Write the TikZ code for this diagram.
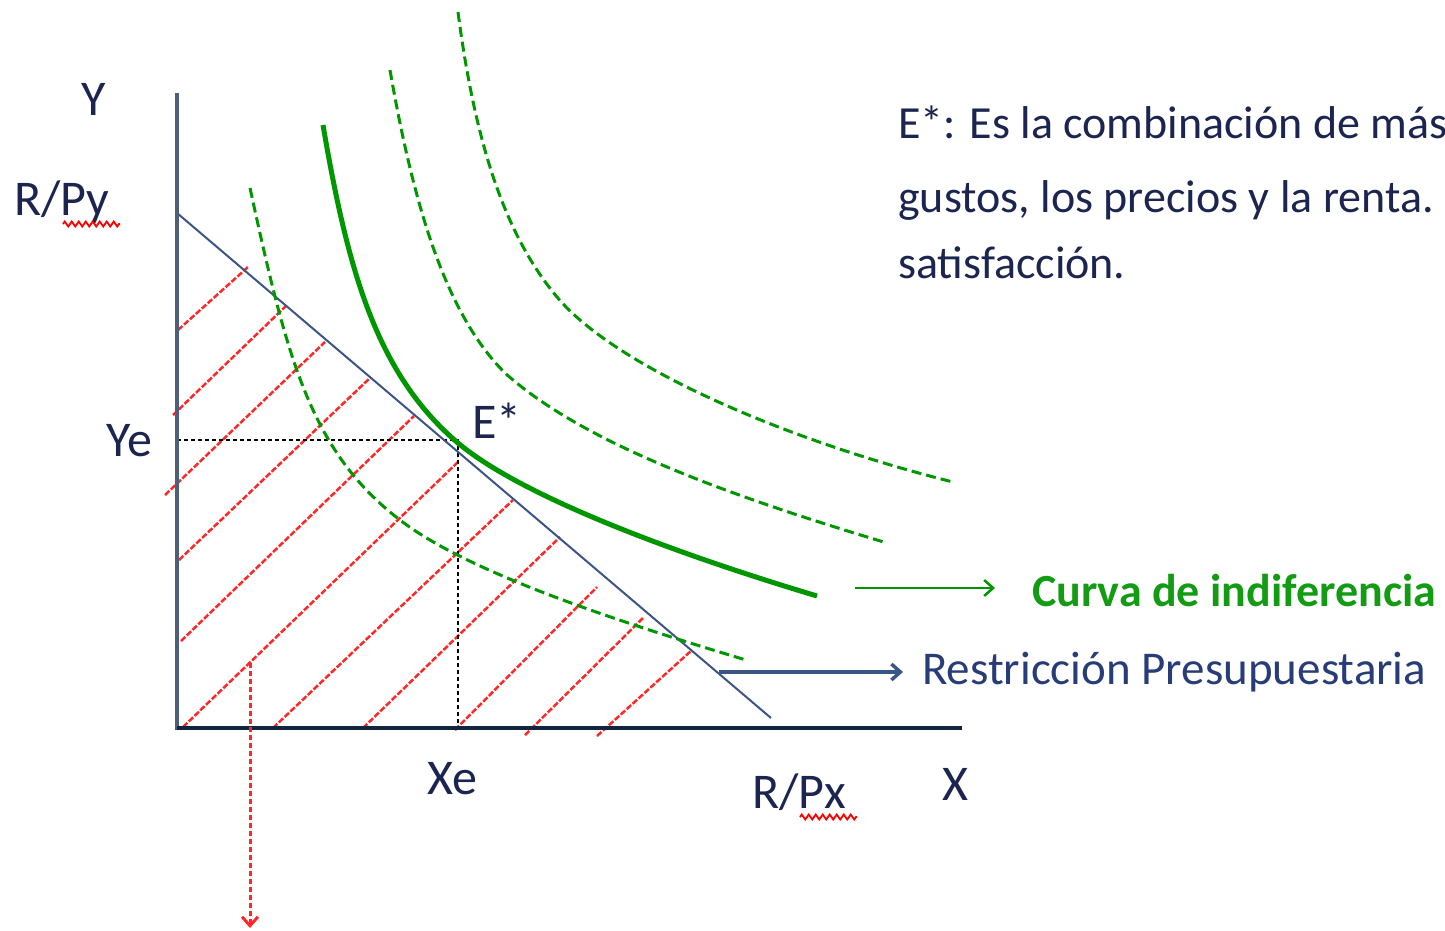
\documentclass[tikz,border=0pt]{standalone}
\usepackage{fontspec}
\setmainfont{Carlito}
\usetikzlibrary{arrows.meta,decorations.pathmorphing}
\definecolor{gr}{RGB}{0,150,0}
\definecolor{txt}{RGB}{28,36,80}
\definecolor{bud}{RGB}{60,85,135}
\definecolor{hat}{RGB}{255,40,40}
\definecolor{axy}{RGB}{80,95,120}
\definecolor{axx}{RGB}{19,36,63}
\definecolor{rp}{RGB}{40,60,120}
\definecolor{cgreen}{RGB}{20,155,20}
\begin{document}
\begin{tikzpicture}[x=1pt,y=-1pt,
 lbl/.style={inner sep=0pt, anchor=base west, text=txt, font=\fontsize{46}{55}\selectfont},
 axl/.style={lbl, font=\fontsize{50}{60}\selectfont},
 hatch/.style={hat, line width=2.5pt, dash pattern=on 6pt off 2pt},
 dcurve/.style={gr, line width=3pt, dash pattern=on 10pt off 5pt},
 scurve/.style={gr, line width=5pt},
 guide/.style={black, line width=2.5pt, dash pattern=on 4pt off 3pt},
 squig/.style={red, line width=1.8pt, decorate, decoration={zigzag, segment length=7pt, amplitude=2.5pt}},
 tip/.style={-{Straight Barb[length=9pt,width=16pt]}},
]
\useasboundingbox (0,0) rectangle (1445,930);

% hatch lines
\draw[hatch] (178,330) -- (248,267);
\draw[hatch] (173,415) -- (287,305);
\draw[hatch] (165,495) -- (325,342);
\draw[hatch] (179,560) -- (371,377);
\draw[hatch] (181,641) -- (414,416);
\draw[hatch] (183,727) -- (459,461);
\draw[hatch] (273,728) -- (513,500);
\draw[hatch] (363,728) -- (560,537);
\draw[hatch] (455,730) -- (597,587);
\draw[hatch] (525,735) -- (643,618);
\draw[hatch] (597,736) -- (692,650);

% guides to E*
\coordinate (E) at (458,440);
\draw[guide] (177,440) -- (E) -- (458,728);

% budget line
\coordinate (b0) at (177,213);
\coordinate (b1) at (771,718);
\draw[bud, line width=2pt] (b0) -- (b1);

% axes
\draw[axy, line width=3.5pt] (177,93) -- (177,730);
\draw[axx, line width=3.5pt] (177,728) -- (962,728);

% indifference curves
\draw[dcurve] (250,188) .. controls (287,358) and (310,451) .. (400,520)
                        .. controls (470,574) and (626,624) .. (746,660);
\draw[scurve] (323,125) .. controls (348.5,275) and (378,375) .. (458,443)
                        .. controls (520,495) and (667,551) .. (817,596);
\draw[dcurve] (390,70) .. controls (416,220) and (450,318) .. (505,373)
                       .. controls (585,445) and (737,498) .. (887,543);
\draw[dcurve] (458,12) .. controls (477.5,162) and (512,243) .. (557,297)
                       .. controls (614.6,366) and (783,439.5) .. (953,482);

% labels
\node[axl] (ylab) at (81,115) {Y};
\node[axl] (rpy) at (14,215) {R/Py};
\draw[squig] (63,224) -- (120,224);
\node[axl] (ye) at (106,456) {Ye};
\node[axl] (estar) at (472,438) {E*};
\node[axl] (xe) at (427,794) {Xe};
\node[axl] (rpx) at (752,808) {R/Px};
\draw[squig] (800,817) -- (857,817);
\node[axl] (xlab) at (942,800) {X};

\begin{scope}
\clip (0,0) rectangle (1445,930);
\node[lbl] (t1) at (898,138) {E*: Es la combinación de más};
\node[lbl] (t2) at (898,212) {gustos, los precios y la renta.};
\node[lbl] (t3) at (898,278) {satisfacción.};
\end{scope}

% legend arrows
\node[lbl, text=cgreen, font=\fontsize{46}{55}\selectfont\bfseries] (curva) at (1032,606) {Curva de indiferencia};
\node[lbl, text=rp, font=\fontsize{47}{56}\selectfont] (restr) at (922,684) {Restricción Presupuestaria};
\coordinate (ga) at (855,588);
\coordinate (gb) at (995,588);
\draw[gr, line width=2.5pt, tip] (ga) -- (gb);
\coordinate (ba) at (719,672);
\coordinate (bb) at (903,672);
\draw[bud, line width=3.5pt, tip] (ba) -- (bb);
\coordinate (ra) at (250,663);
\coordinate (rb) at (250,928);
\draw[hat, line width=3pt, dash pattern=on 5pt off 3pt, tip] (ra) -- (rb);
\end{tikzpicture}
\end{document}
